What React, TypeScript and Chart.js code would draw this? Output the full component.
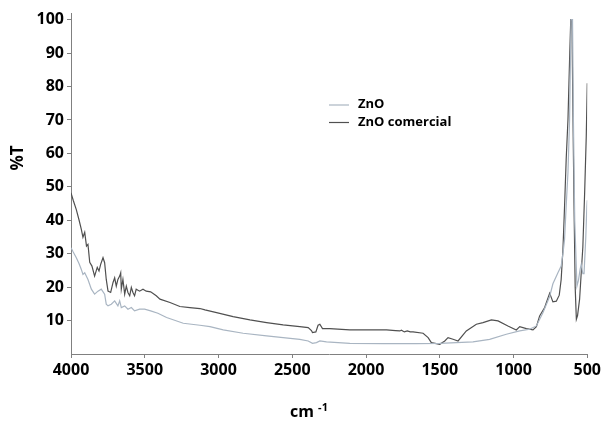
import React, { useEffect, useRef } from "react";
import { Chart, registerables } from "chart.js";

Chart.register(...registerables);

const seriesNames = ["ZnO", "ZnO comercial"];

const znoWn = [
  4000, 3985, 3964, 3945, 3930, 3919, 3907, 3885, 3862, 3840, 3817, 3795, 3772, 3761, 3749, 3727,
  3704, 3682, 3670, 3659, 3636, 3614, 3591, 3569, 3535, 3501, 3460, 3411, 3352, 3239, 3126, 3058,
  2968, 2833, 2674, 2562, 2449, 2392, 2363, 2336, 2313, 2268, 2110, 1884, 1658, 1500, 1275, 1162,
  1049, 958, 891, 845, 800, 755, 733, 699, 677, 665, 654, 643, 631, 620, 610, 600, 594, 585, 570,
  560, 548, 541, 530, 522, 510, 503, 500,
];
const znoT = [
  31.8, 30.5, 28.8, 27, 25.3, 23.8, 24.3, 22.3, 19.4, 17.9, 18.8, 19.4, 17.9, 14.9, 14.4, 14.9,
  15.9, 14.4, 15.9, 13.9, 14.4, 13.4, 13.9, 12.9, 13.4, 13.4, 12.9, 12.2, 10.9, 9.2, 8.6, 8.2,
  7.2, 6.2, 5.4, 4.9, 4.4, 3.9, 3.2, 3.4, 3.9, 3.6, 3.2, 3.1, 3.1, 3.2, 3.6, 4.4,
  5.9, 6.9, 7.4, 8.4, 12.4, 17.2, 21, 24.3, 26.3, 30, 34.3, 44.2, 54.2, 70, 100, 100, 70, 40, 20.3,
  22, 25.5, 26.8, 24, 24, 35, 44, 46,
];

const comWn = [
  4000, 3985, 3964, 3945, 3930, 3919, 3907, 3895, 3885, 3873, 3858, 3840, 3822, 3810, 3799, 3783,
  3772, 3761, 3749, 3731, 3715, 3704, 3693, 3682, 3670, 3663, 3659, 3648, 3636, 3625, 3614, 3602,
  3591, 3580, 3569, 3558, 3535, 3512, 3490, 3460, 3422, 3397, 3329, 3262, 3194, 3126, 3092, 3013,
  2901, 2787, 2674, 2562, 2449, 2392, 2370, 2363, 2340, 2325, 2313, 2295, 2246, 2110, 1997, 1861,
  1800, 1771, 1760, 1740, 1720, 1700, 1681, 1613, 1579, 1557, 1523, 1500, 1466, 1444, 1410, 1376,
  1320, 1252, 1207, 1150, 1105, 1038, 981, 958, 913, 868, 845, 823, 789, 755, 733, 710, 690, 677,
  665, 654, 643, 631, 620, 612, 604, 598, 590, 582, 574, 566, 552, 540, 530, 518, 507, 500,
];
const comT = [
  48.2, 46, 43.2, 40, 37.3, 34.9, 36.4, 32.3, 32.8, 27.4, 26.3, 23.3, 25.9, 24.8, 26.8, 28.8,
  27.3, 22.3, 18.8, 18.4, 21.4, 22.8, 20.3, 22.3, 23.3, 24.3, 19.4, 22.3, 17.9, 20.3, 18.4, 17.4,
  19.9, 18.4, 17.4, 19.4, 18.8, 19.4, 18.8, 18.6, 17.4, 16.4, 15.4, 14.2, 13.9, 13.6, 13.2, 12.4,
  11.2, 10.2, 9.4, 8.7, 8.2, 7.9, 7.0, 6.4, 6.6, 8.6, 8.9, 7.6, 7.6, 7.2, 7.2, 7.2,
  7.0, 6.9, 7.1, 6.6, 6.9, 6.6, 6.6, 6.2, 4.9, 3.4, 3.1, 2.9, 3.9, 4.9, 4.4, 3.9,
  6.9, 8.9, 9.4, 10.2, 9.9, 8.4, 7.2, 8.2, 7.6, 7.2, 8.2, 11.4, 13.9, 18.2, 15.6, 15.8, 17.6, 22.3,
  31.3, 44.2, 58.2, 70, 88, 100, 100, 75, 45, 20, 10.4, 11.5, 16.4, 25, 32, 48, 65, 81,
];

const xTicks = [4000, 3500, 3000, 2500, 2000, 1500, 1000, 500];
const yTicks = [10, 20, 30, 40, 50, 60, 70, 80, 90, 100];

const yTitle = "%T";
const xTitleMain = "cm";
const xTitleSup = "-1";

const znoColor = "#a9b5c2";
const comColor = "#505050";
const axisColor = "#808080";
const FONT = '"Open Sans", "DejaVu Sans", sans-serif';

const extrasPlugin = {
  id: "extras",
  afterDraw(chart: any) {
    const ctx = chart.ctx;
    ctx.save();
    ctx.fillStyle = "#000";
    // y title
    ctx.save();
    ctx.translate(18.5, 158);
    ctx.rotate(-Math.PI / 2);
    ctx.font = `bold 17px ${FONT}`;
    ctx.textAlign = "center";
    ctx.textBaseline = "middle";
    ctx.fillText(yTitle, 0, 0);
    ctx.restore();
    // x title
    ctx.textAlign = "left";
    ctx.textBaseline = "alphabetic";
    ctx.font = `bold 16px ${FONT}`;
    ctx.fillText(xTitleMain, 290, 417);
    const w = ctx.measureText(xTitleMain + " ").width;
    ctx.font = `bold 11px ${FONT}`;
    ctx.fillText(xTitleSup, 290 + w, 411);
    // legend
    const items = [
      { label: seriesNames[0], color: znoColor, y: 104.5 },
      { label: seriesNames[1], color: comColor, y: 122 },
    ];
    ctx.font = `bold 13px ${FONT}`;
    ctx.textBaseline = "middle";
    items.forEach((it) => {
      ctx.strokeStyle = it.color;
      ctx.lineWidth = 1.2;
      ctx.beginPath();
      ctx.moveTo(329, it.y + 0.5);
      ctx.lineTo(349, it.y + 0.5);
      ctx.stroke();
      ctx.fillText(it.label, 358, it.y);
    });
    ctx.restore();
  },
};

export default function App() {
  const ref = useRef<HTMLCanvasElement | null>(null);
  useEffect(() => {
    if (!ref.current) return;
    const chart = new Chart(ref.current, {
      type: "line",
      data: {
        datasets: [
          {
            label: seriesNames[0],
            data: znoWn.map((x, i) => ({ x, y: znoT[i] })),
            borderColor: znoColor,
            borderWidth: 1.2,
            pointRadius: 0,
            tension: 0,
          },
          {
            label: seriesNames[1],
            data: comWn.map((x, i) => ({ x, y: comT[i] })),
            borderColor: comColor,
            borderWidth: 1.2,
            pointRadius: 0,
            tension: 0,
          },
        ],
      },
      options: {
        animation: false,
        responsive: false,
        layout: { padding: { top: 13, right: 16, left: 0, bottom: 0 } },
        plugins: { legend: { display: false }, tooltip: { enabled: false } },
        scales: {
          x: {
            type: "linear",
            reverse: true,
            min: 500,
            max: 4000,
            afterBuildTicks: (s: any) => {
              s.ticks = xTicks.map((v) => ({ value: v }));
            },
            afterFit: (s: any) => {
              s.height = 68;
            },
            grid: { drawOnChartArea: false, drawTicks: true, tickLength: 4, color: axisColor },
            border: { color: axisColor },
            ticks: {
              autoSkip: false,
              maxRotation: 0,
              padding: 3,
              color: "#000",
              callback: (v: any) => String(v),
              font: { family: FONT, size: 16, weight: "bold" },
            },
          },
          y: {
            min: 0,
            max: 102,
            afterBuildTicks: (s: any) => {
              s.ticks = yTicks.map((v) => ({ value: v }));
            },
            afterFit: (s: any) => {
              s.width = 71;
            },
            grid: { drawOnChartArea: false, drawTicks: true, tickLength: 4, color: axisColor },
            border: { color: axisColor },
            ticks: {
              padding: 3,
              color: "#000",
              callback: (v: any) => String(v),
              font: { family: FONT, size: 16, weight: "bold" },
            },
          },
        },
      },
      plugins: [extrasPlugin],
    } as any);
    return () => chart.destroy();
  }, []);
  return (
    <canvas
      ref={ref}
      width={604}
      height={422}
      style={{ position: "fixed", left: 0, top: 0, display: "block" }}
    />
  );
}
